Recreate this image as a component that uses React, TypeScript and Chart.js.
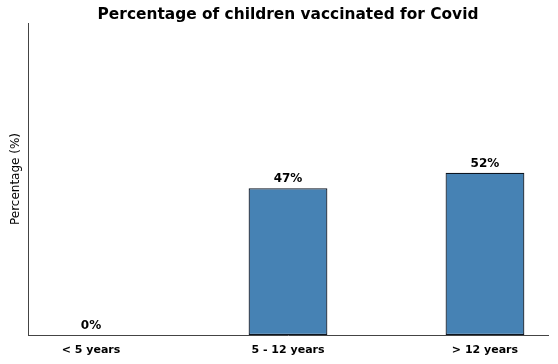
import React, { useEffect, useRef } from "react";
import { Chart, registerables } from "chart.js";

Chart.register(...registerables);

const categories = ["< 5 years", "5 - 12 years", "> 12 years"];
const values = [0, 47, 52];
const valueLabels = ["0%", "47%", "52%"];
const titleText = "Percentage of children vaccinated for Covid";
const yLabel = "Percentage (%)";

const FONT = "'DejaVu Sans', sans-serif";

const valueLabelPlugin = {
  id: "valueLabels",
  afterDatasetsDraw(chart: any) {
    const ctx = chart.ctx;
    const meta = chart.getDatasetMeta(0);
    ctx.save();
    ctx.font = `bold 12px ${FONT}`;
    ctx.fillStyle = "#000";
    ctx.textAlign = "center";
    ctx.textBaseline = "bottom";
    meta.data.forEach((bar: any, i: number) => {
      ctx.fillText(valueLabels[i], bar.x, bar.y - 3);
    });
    ctx.restore();
  },
};

const axesTitlePlugin = {
  id: "axesTitle",
  afterDraw(chart: any) {
    const ctx = chart.ctx;
    const area = chart.chartArea;
    ctx.save();
    ctx.font = `bold 15.4px ${FONT}`;
    ctx.fillStyle = "#000";
    ctx.textAlign = "center";
    ctx.textBaseline = "alphabetic";
    ctx.fillText(titleText, (area.left + area.right) / 2, 19);
    ctx.restore();
  },
};

export default function App() {
  const ref = useRef<HTMLCanvasElement>(null);
  useEffect(() => {
    if (!ref.current) return;
    const chart = new Chart(ref.current, {
      type: "bar",
      data: {
        datasets: [
          {
            data: values.map((v, i) => ({ x: i, y: v })),
            backgroundColor: "#4682B4",
            borderColor: "#0d1520",
            borderWidth: 1.2,
            borderSkipped: false,
            barPercentage: 0.4,
            categoryPercentage: 1,
          },
        ],
      },
      options: {
        animation: false,
        responsive: false,
        devicePixelRatio: 1,
        layout: { padding: { left: 0, right: 10, top: 23, bottom: 0 } },
        plugins: {
          legend: { display: false },
          tooltip: { enabled: false },
          title: { display: false },
        },
        scales: {
          x: {
            type: "linear",
            min: -0.32,
            max: 2.32,
            offset: false,
            grid: { display: false, drawTicks: false },
            border: { display: true, color: "#444", width: 1 },
            afterBuildTicks: (s: any) => {
              s.ticks = categories.map((_, i) => ({ value: i }));
            },
            afterFit: (s: any) => {
              s.height = 29;
            },
            ticks: {
              autoSkip: false,
              maxRotation: 0,
              padding: 9,
              color: "#000",
              font: { family: FONT, size: 11, weight: "bold" },
              callback: (v: any) => categories[v] ?? "",
            },
          },
          y: {
            min: 0,
            max: 100,
            grid: { display: false, drawTicks: false },
            border: { display: true, color: "#444", width: 1 },
            ticks: { display: false },
            afterFit: (s: any) => {
              s.width = 28;
            },
            title: {
              display: true,
              text: yLabel,
              color: "#000",
              font: { family: FONT, size: 12 },
              padding: { top: 9, bottom: 0 },
            },
          },
        },
      },
      plugins: [valueLabelPlugin, axesTitlePlugin],
    } as any);
    return () => chart.destroy();
  }, []);
  return (
    <div style={{ position: "absolute", left: 0, top: 0, width: 558, height: 364, background: "#fff" }}>
      <canvas ref={ref} width={558} height={364} />
    </div>
  );
}
